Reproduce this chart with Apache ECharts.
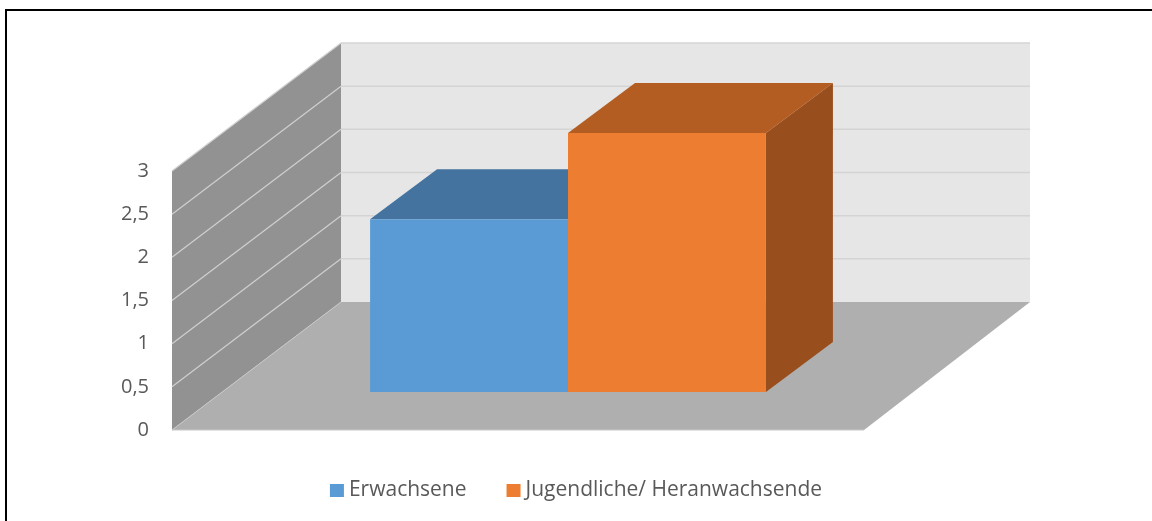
<!DOCTYPE html>
<html>
<head>
<meta charset="utf-8">
<script src="https://cdn.jsdelivr.net/npm/echarts@6/dist/echarts.min.js"></script>
<style>
  html, body { margin: 0; padding: 0; background: #fff; }
  #chart { width: 1152px; height: 521px; }
</style>
</head>
<body>
<div id="chart"></div>
<script>
// Data
const categories = [''];
const seriesNames = ['Erwachsene', 'Jugendliche/ Heranwachsende'];
const erwachsene = [2];
const jugendliche = [3];
const yTicks = [0, 0.5, 1, 1.5, 2, 2.5, 3];

// Look of the pseudo-3D box
const colors = {
  front: ['#5b9bd5', '#ed7d31'],
  top: ['#44739f', '#b35d22'],
  side: ['#3f6a93', '#994e1d'],
  backWall: '#e6e6e6',
  sideWall: '#929292',
  floor: '#afafaf',
  grid: '#d4d4d4',
  sideGrid: '#d0d0d0'
};
const WALL_DX = 169, WALL_DY = -128;   // depth of the whole plot box
const BAR_OFF_DX = 50, BAR_OFF_DY = -38; // bars start this far into the box
const BAR_DX = 67, BAR_DY = -50;       // depth of each bar
const GROUP_RATIO = 0.572;             // share of the band used by the bar group

function wallsItem(params, api) {
  const band = api.size([1, 0])[0];
  const c0 = api.coord([0, 0]);
  const c3 = api.coord([0, yTicks[yTicks.length - 1]]);
  const x0 = c0[0] - band / 2, x1 = c0[0] + band / 2;
  const yb = c0[1], yt = c3[1];
  const children = [];
  // back wall
  children.push({ type: 'rect', shape: { x: x0 + WALL_DX, y: yt + WALL_DY, width: x1 - x0 - 3, height: yb - yt },
    style: { fill: colors.backWall } });
  // side wall
  children.push({ type: 'polygon', shape: { points: [[x0, yb], [x0, yt], [x0 + WALL_DX, yt + WALL_DY], [x0 + WALL_DX, yb + WALL_DY]] },
    style: { fill: colors.sideWall } });
  // floor
  children.push({ type: 'polygon', shape: { points: [[x0, yb], [x1, yb], [x1 + WALL_DX - 3, yb + WALL_DY], [x0 + WALL_DX, yb + WALL_DY]] },
    style: { fill: colors.floor } });
  // grid lines on back and side wall
  yTicks.forEach(function (v) {
    const y = api.coord([0, v])[1];
    if (v > 0) {
      children.push({ type: 'line', shape: { x1: x0 + WALL_DX, y1: y + WALL_DY, x2: x1 + WALL_DX - 3, y2: y + WALL_DY },
        style: { stroke: colors.grid, lineWidth: 1.5 } });
      children.push({ type: 'line', shape: { x1: x0, y1: y, x2: x0 + WALL_DX, y2: y + WALL_DY },
        style: { stroke: colors.sideGrid, lineWidth: 1.2 } });
    }
  });
  children.push({ type: 'line', shape: { x1: x0, y1: yb, x2: x0 + WALL_DX, y2: yb + WALL_DY },
    style: { stroke: '#c8c8c8', lineWidth: 1 } });
  children.push({ type: 'line', shape: { x1: x0, y1: yb, x2: x1, y2: yb },
    style: { stroke: '#c8c8c8', lineWidth: 1 } });
  return { type: 'group', children: children };
}

function barRenderer(idx) {
  return function (params, api) {
    const cat = api.value(0), val = api.value(1);
    const band = api.size([1, 0])[0];
    const base = api.coord([cat, 0]);
    const top = api.coord([cat, val]);
    const w = band * GROUP_RATIO / 2;
    const left = base[0] - w + idx * w + BAR_OFF_DX;
    const right = left + w;
    const yb = base[1] + BAR_OFF_DY, yt = top[1] + BAR_OFF_DY;
    return {
      type: 'group',
      children: [
        { type: 'polygon', shape: { points: [[right, yb], [right, yt], [right + BAR_DX, yt + BAR_DY], [right + BAR_DX, yb + BAR_DY]] },
          style: { fill: colors.side[idx] } },
        { type: 'polygon', shape: { points: [[left, yt], [right, yt], [right + BAR_DX, yt + BAR_DY], [left + BAR_DX, yt + BAR_DY]] },
          style: { fill: colors.top[idx] } },
        { type: 'rect', shape: { x: left, y: yt, width: w, height: yb - yt },
          style: { fill: colors.front[idx] } }
      ]
    };
  };
}

const chart = echarts.init(document.getElementById('chart'), null, { renderer: 'canvas' });
chart.setOption({
  animation: false,
  backgroundColor: '#ffffff',
  textStyle: { fontFamily: 'Open Sans' },
  grid: { left: 172, right: 288, top: 171, bottom: 91 },
  legend: {
    data: seriesNames,
    top: 475,
    left: 'center',
    itemWidth: 14,
    itemHeight: 13,
    itemGap: 40,
    icon: 'rect',
    textStyle: { fontSize: 21, color: '#595959', fontFamily: 'Open Sans' }
  },
  xAxis: {
    type: 'category',
    data: categories,
    axisLine: { show: false },
    axisTick: { show: false },
    axisLabel: { show: false },
    splitLine: { show: false }
  },
  yAxis: {
    type: 'value',
    min: 0,
    max: 3,
    interval: 0.5,
    axisLine: { show: false },
    axisTick: { show: false },
    splitLine: { show: false },
    axisLabel: {
      margin: 23,
      fontSize: 20,
      color: '#595959',
      fontFamily: 'Open Sans',
      formatter: function (v) { return String(v).replace('.', ','); }
    }
  },
  graphic: [{
    type: 'rect', silent: true,
    shape: { x: 6, y: 10, width: 1300, height: 700 },
    style: { fill: 'none', stroke: '#000', lineWidth: 2 }
  }],
  series: [
    { type: 'custom', name: '_walls', z: 1, silent: true, data: [[0, 0]], renderItem: wallsItem },
    { type: 'custom', name: seriesNames[0], z: 2, itemStyle: { color: colors.front[0] },
      data: categories.map(function (c, i) { return [i, erwachsene[i]]; }), renderItem: barRenderer(0) },
    { type: 'custom', name: seriesNames[1], z: 3, itemStyle: { color: colors.front[1] },
      data: categories.map(function (c, i) { return [i, jugendliche[i]]; }), renderItem: barRenderer(1) }
  ]
});
</script>
</body>
</html>
